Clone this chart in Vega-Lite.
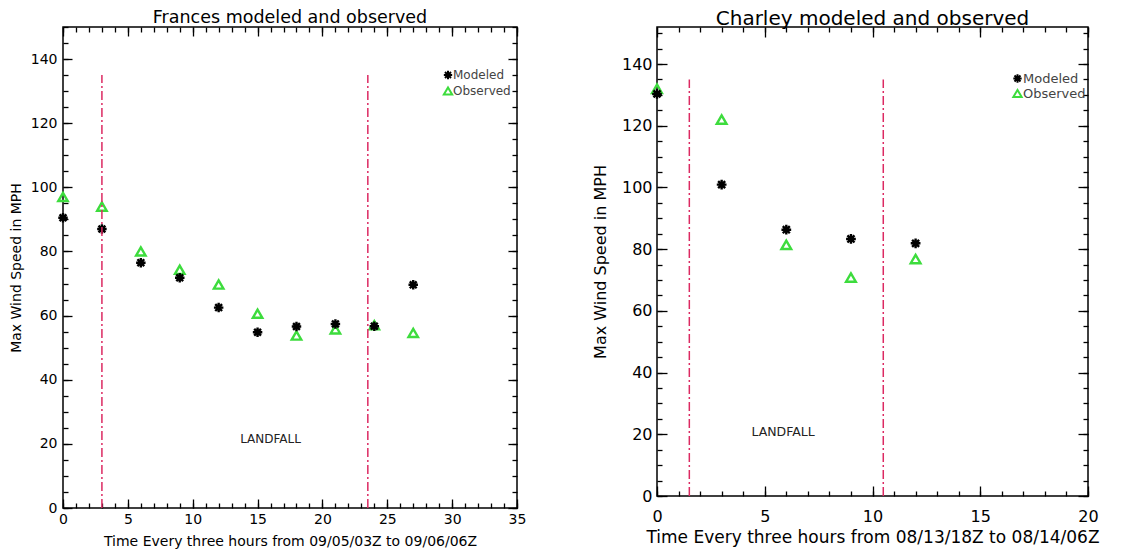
{
  "$schema": "https://vega.github.io/schema/vega-lite/v6.json",
  "background": "white",
  "padding": {"left": 8, "top": 8, "right": 5, "bottom": 0},
  "config": {
    "font": "DejaVu Sans",
    "view": {"stroke": "black", "strokeWidth": 1.5},
    "axis": {"domain": false, "grid": false, "tickColor": "black", "tickWidth": 1.3, "labelColor": "black", "titleColor": "black", "titleFontWeight": "normal", "labelFlush": false, "labelOverlap": false},
    "title": {"fontWeight": "normal", "color": "black", "anchor": "middle"}
  },
  "datasets": {
    "frances": [
      {"t": 0, "series": "Observed", "mph": 97},
      {"t": 3, "series": "Observed", "mph": 94},
      {"t": 6, "series": "Observed", "mph": 80},
      {"t": 9, "series": "Observed", "mph": 74.3},
      {"t": 12, "series": "Observed", "mph": 69.7},
      {"t": 15, "series": "Observed", "mph": 60.6},
      {"t": 18, "series": "Observed", "mph": 53.8},
      {"t": 21, "series": "Observed", "mph": 55.7},
      {"t": 24, "series": "Observed", "mph": 57},
      {"t": 27, "series": "Observed", "mph": 54.6},
      {"t": 0, "series": "Modeled", "mph": 90.5},
      {"t": 3, "series": "Modeled", "mph": 87},
      {"t": 6, "series": "Modeled", "mph": 76.5},
      {"t": 9, "series": "Modeled", "mph": 71.8},
      {"t": 12, "series": "Modeled", "mph": 62.5},
      {"t": 15, "series": "Modeled", "mph": 54.8},
      {"t": 18, "series": "Modeled", "mph": 56.6},
      {"t": 21, "series": "Modeled", "mph": 57.4},
      {"t": 24, "series": "Modeled", "mph": 56.7},
      {"t": 27, "series": "Modeled", "mph": 69.6}
    ],
    "frances_lines": [{"t": 3}, {"t": 23.5}],
    "frances_text": [{"t": 16, "mph": 21.5, "label": "LANDFALL"}],
    "charley": [
      {"t": 0, "series": "Observed", "mph": 132},
      {"t": 3, "series": "Observed", "mph": 122},
      {"t": 6, "series": "Observed", "mph": 81.4},
      {"t": 9, "series": "Observed", "mph": 70.8},
      {"t": 12, "series": "Observed", "mph": 76.8},
      {"t": 0, "series": "Modeled", "mph": 130.3},
      {"t": 3, "series": "Modeled", "mph": 100.9},
      {"t": 6, "series": "Modeled", "mph": 86.3},
      {"t": 9, "series": "Modeled", "mph": 83.3},
      {"t": 12, "series": "Modeled", "mph": 81.9}
    ],
    "charley_lines": [{"t": 1.5}, {"t": 10.5}],
    "charley_text": [{"t": 5.85, "mph": 20.7, "label": "LANDFALL"}]
  },
  "spacing": 64,
  "resolve": {
    "scale": {"shape": "independent", "stroke": "independent"},
    "legend": {"shape": "independent", "stroke": "independent"}
  },
  "hconcat": [
    {
      "width": 454,
      "height": 481,
      "title": {"text": "Frances modeled and observed", "fontSize": 17.5, "offset": 0},
      "resolve": {"axis": {"x": "independent", "y": "independent"}},
      "layer": [
        {
          "data": {"name": "frances"},
          "mark": {"type": "point", "filled": false, "strokeWidth": 2.4, "size": 90, "opacity": 1},
          "encoding": {
            "x": {"field": "t", "type": "quantitative", "scale": {"domain": [0, 35], "nice": false, "zero": false},
              "axis": {"orient": "bottom", "values": [0, 5, 10, 15, 20, 25, 30, 35], "offset": -9, "tickSize": 9, "labelPadding": 4, "labelFontSize": 14, "title": "Time Every three hours from 09/05/03Z to 09/06/06Z", "titleFontSize": 14, "titlePadding": 8}},
            "y": {"field": "mph", "type": "quantitative", "scale": {"domain": [0, 150], "nice": false, "zero": false},
              "axis": {"orient": "left", "values": [0, 20, 40, 60, 80, 100, 120, 140], "offset": -9, "tickSize": 9, "labelPadding": 6, "labelFontSize": 14, "title": "Max Wind Speed in MPH", "titleFontSize": 14, "titlePadding": 7}},
            "shape": {"field": "series", "type": "nominal",
              "scale": {"domain": ["Modeled", "Observed"], "range": ["M-1,0L1,0M0,-1L0,1M-0.72,-0.72L0.72,0.72M-0.72,0.72L0.72,-0.72", "triangle-up"]},
              "legend": {"orient": "none", "legendX": 379, "legendY": 42, "title": null, "labelFontSize": 12, "labelColor": "#444", "symbolSize": 70, "symbolStrokeWidth": 2, "rowPadding": -1, "labelOffset": -1, "padding": 0}},
            "stroke": {"field": "series", "type": "nominal",
              "scale": {"domain": ["Modeled", "Observed"], "range": ["black", "#3ddc3d"]},
              "legend": {"orient": "none", "legendX": 379, "legendY": 42, "title": null, "labelFontSize": 12, "labelColor": "#444", "symbolSize": 70, "symbolStrokeWidth": 2, "rowPadding": -1, "labelOffset": -1, "padding": 0}}
          }
        },
        {
          "data": {"name": "frances_lines"},
          "mark": {"type": "rule", "color": "#dc2a62", "strokeDash": [9, 3, 2, 3], "strokeWidth": 1.5},
          "encoding": {
            "x": {"field": "t", "type": "quantitative",
              "axis": {"orient": "bottom", "values": [0,1,2,3,4,5,6,7,8,9,10,11,12,13,14,15,16,17,18,19,20,21,22,23,24,25,26,27,28,29,30,31,32,33,34,35], "offset": -5, "tickSize": 5, "labels": false, "title": null}},
            "y": {"datum": 0, "type": "quantitative",
              "axis": {"orient": "left", "values": [0,5,10,15,20,25,30,35,40,45,50,55,60,65,70,75,80,85,90,95,100,105,110,115,120,125,130,135,140,145,150], "offset": -5, "tickSize": 5, "labels": false, "title": null}},
            "y2": {"datum": 135}
          }
        },
        {
          "data": {"name": "frances_text"},
          "mark": {"type": "text", "fontSize": 12, "color": "#222"},
          "encoding": {
            "x": {"field": "t", "type": "quantitative",
              "axis": {"orient": "top", "values": [0, 5, 10, 15, 20, 25, 30, 35], "offset": -9, "tickSize": 9, "labels": false, "title": null}},
            "y": {"field": "mph", "type": "quantitative",
              "axis": {"orient": "right", "values": [0, 20, 40, 60, 80, 100, 120, 140], "offset": -9, "tickSize": 9, "labels": false, "title": null}},
            "text": {"field": "label"}
          }
        },
        {
          "data": {"name": "frances"},
          "mark": {"type": "point", "opacity": 0},
          "encoding": {
            "x": {"field": "t", "type": "quantitative",
              "axis": {"orient": "top", "values": [0,1,2,3,4,5,6,7,8,9,10,11,12,13,14,15,16,17,18,19,20,21,22,23,24,25,26,27,28,29,30,31,32,33,34,35], "offset": -5, "tickSize": 5, "labels": false, "title": null}},
            "y": {"field": "mph", "type": "quantitative",
              "axis": {"orient": "right", "values": [0,5,10,15,20,25,30,35,40,45,50,55,60,65,70,75,80,85,90,95,100,105,110,115,120,125,130,135,140,145,150], "offset": -5, "tickSize": 5, "labels": false, "title": null}}
          }
        }
      ]
    },
    {
      "width": 431,
      "height": 469,
      "title": {"text": "Charley modeled and observed", "fontSize": 20, "offset": -3},
      "resolve": {"axis": {"x": "independent", "y": "independent"}},
      "layer": [
        {
          "data": {"name": "charley"},
          "mark": {"type": "point", "filled": false, "strokeWidth": 2.4, "size": 95, "opacity": 1},
          "encoding": {
            "x": {"field": "t", "type": "quantitative", "scale": {"domain": [0, 20], "nice": false, "zero": false},
              "axis": {"orient": "bottom", "values": [0, 5, 10, 15, 20], "offset": -10, "tickSize": 10, "labelPadding": 12, "labelFontSize": 16, "title": "Time Every three hours from 08/13/18Z to 08/14/06Z", "titleFontSize": 17, "titlePadding": 5}},
            "y": {"field": "mph", "type": "quantitative", "scale": {"domain": [0, 152], "nice": false, "zero": false},
              "axis": {"orient": "left", "values": [0, 20, 40, 60, 80, 100, 120, 140], "offset": -10, "tickSize": 10, "labelPadding": 5, "labelFontSize": 16, "title": "Max Wind Speed in MPH", "titleFontSize": 16, "titlePadding": 13}},
            "shape": {"field": "series", "type": "nominal",
              "scale": {"domain": ["Modeled", "Observed"], "range": ["M-1,0L1,0M0,-1L0,1M-0.72,-0.72L0.72,0.72M-0.72,0.72L0.72,-0.72", "triangle-up"]},
              "legend": {"orient": "none", "legendX": 354, "legendY": 45, "title": null, "labelFontSize": 13, "labelColor": "#444", "symbolSize": 70, "symbolStrokeWidth": 2, "rowPadding": -2, "labelOffset": -1, "padding": 0}},
            "stroke": {"field": "series", "type": "nominal",
              "scale": {"domain": ["Modeled", "Observed"], "range": ["black", "#3ddc3d"]},
              "legend": {"orient": "none", "legendX": 354, "legendY": 45, "title": null, "labelFontSize": 13, "labelColor": "#444", "symbolSize": 70, "symbolStrokeWidth": 2, "rowPadding": -2, "labelOffset": -1, "padding": 0}}
          }
        },
        {
          "data": {"name": "charley_lines"},
          "mark": {"type": "rule", "color": "#dc2a62", "strokeDash": [9, 3, 2, 3], "strokeWidth": 1.5},
          "encoding": {
            "x": {"field": "t", "type": "quantitative",
              "axis": {"orient": "bottom", "values": [0,1,2,3,4,5,6,7,8,9,10,11,12,13,14,15,16,17,18,19,20], "offset": -5, "tickSize": 5, "labels": false, "title": null}},
            "y": {"datum": 0, "type": "quantitative",
              "axis": {"orient": "left", "values": [0,5,10,15,20,25,30,35,40,45,50,55,60,65,70,75,80,85,90,95,100,105,110,115,120,125,130,135,140,145,150], "offset": -5, "tickSize": 5, "labels": false, "title": null}},
            "y2": {"datum": 135}
          }
        },
        {
          "data": {"name": "charley_text"},
          "mark": {"type": "text", "fontSize": 12.5, "color": "#222"},
          "encoding": {
            "x": {"field": "t", "type": "quantitative",
              "axis": {"orient": "top", "values": [0, 5, 10, 15, 20], "offset": -10, "tickSize": 10, "labels": false, "title": null}},
            "y": {"field": "mph", "type": "quantitative",
              "axis": {"orient": "right", "values": [0, 20, 40, 60, 80, 100, 120, 140], "offset": -10, "tickSize": 10, "labels": false, "title": null}},
            "text": {"field": "label"}
          }
        },
        {
          "data": {"name": "charley"},
          "mark": {"type": "point", "opacity": 0},
          "encoding": {
            "x": {"field": "t", "type": "quantitative",
              "axis": {"orient": "top", "values": [0,1,2,3,4,5,6,7,8,9,10,11,12,13,14,15,16,17,18,19,20], "offset": -5, "tickSize": 5, "labels": false, "title": null}},
            "y": {"field": "mph", "type": "quantitative",
              "axis": {"orient": "right", "values": [0,5,10,15,20,25,30,35,40,45,50,55,60,65,70,75,80,85,90,95,100,105,110,115,120,125,130,135,140,145,150], "offset": -5, "tickSize": 5, "labels": false, "title": null}}
          }
        }
      ]
    }
  ]
}
